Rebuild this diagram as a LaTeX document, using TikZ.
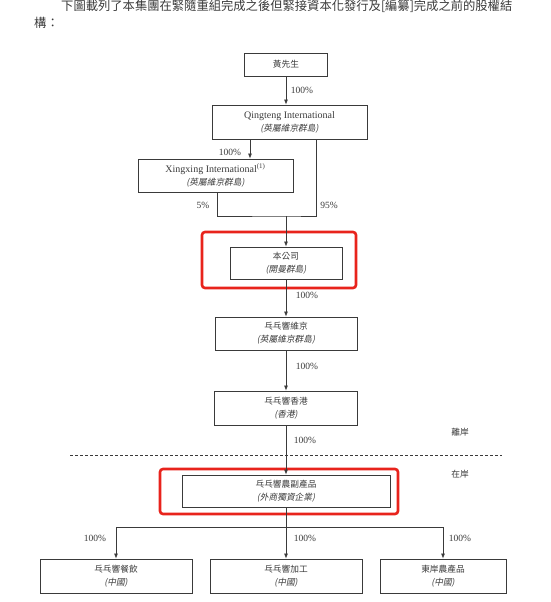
\documentclass[tikz,border=0pt]{standalone}
\usepackage{fontspec}
\setmainfont{Liberation Serif}
\newfontfamily\cjk{Noto Sans CJK TC}
\newfontfamily\cjkit{Noto Sans CJK TC}[FakeSlant=0.2]
\usetikzlibrary{arrows.meta}
\usepackage{xcolor}
\definecolor{ink}{HTML}{3A3A3A}
\definecolor{hilite}{HTML}{E8231C}
\newcommand{\zh}[1]{{\cjk\fontsize{8.7}{13}\selectfont #1}}
\newcommand{\zhit}[1]{{\cjkit\fontsize{8.7}{13}\selectfont (#1)}}

\begin{document}
\begin{tikzpicture}[x=1pt, y=-1pt,
  ent/.style={draw=ink, line width=0.8pt, align=center, inner sep=0pt, text=ink, font=\fontsize{10}{13}\selectfont},
  pct/.style={text=ink, inner sep=0pt, font=\fontsize{9.5}{11}\selectfont},
  arr/.style={draw=ink, line width=0.75pt, -{Latex[length=5pt,width=4pt]}},
  ln/.style={draw=ink, line width=0.75pt},
  hl/.style={draw=hilite, line width=2.6pt, rounded corners=3pt}]
\useasboundingbox (0,0) rectangle (550,602);

%intro text
\node[anchor=west, text=ink, inner sep=0pt] (intro) at (61,6) {\cjk\fontsize{12.3}{14}\selectfont 下圖載列了本集團在緊隨重組完成之後但緊接資本化發行及[編纂]完成之前的股權結};
\node[anchor=west, text=ink, inner sep=0pt] (intro2) at (34,23) {\cjk\fontsize{12.3}{14}\selectfont 構：};

%entities
\node[ent, minimum width=83pt, minimum height=23pt] (huang) at (286,64.5) {\zh{黃先生}};
\node[ent, minimum width=155pt, minimum height=34pt] (qt) at (289.5,122) {Qingteng International\\\zhit{英屬維京群島}};
\node[ent, minimum width=155pt, minimum height=33pt] (xx) at (215.5,175.5) {Xingxing International\textsuperscript{(1)}\\\zhit{英屬維京群島}};
\node[ent, minimum width=112pt, minimum height=32pt] (co) at (286,263) {\zh{本公司}\\\zhit{開曼群島}};
\node[ent, minimum width=142pt, minimum height=33pt] (bvi) at (286,333.5) {\zh{乓乓響維京}\\\zhit{英屬維京群島}};
\node[ent, minimum width=143pt, minimum height=34pt] (hk) at (286,408) {\zh{乓乓響香港}\\\zhit{香港}};
\node[ent, minimum width=208pt, minimum height=32pt] (wfoe) at (286,491) {\zh{乓乓響農副產品}\\\zhit{外商獨資企業}};
\node[ent, minimum width=152pt, minimum height=34pt] (cat) at (116,576) {\zh{乓乓響餐飲}\\\zhit{中國}};
\node[ent, minimum width=152pt, minimum height=34pt] (proc) at (286,576) {\zh{乓乓響加工}\\\zhit{中國}};
\node[ent, minimum width=126pt, minimum height=34pt] (agri) at (443,576) {\zh{東岸農產品}\\\zhit{中國}};

%highlight frames
\draw[hl] (202,232) rectangle (356,288);
\draw[hl] (160,469) rectangle (398,514);

%line coords
\coordinate (qtl) at (250,0); \coordinate (qtr) at (316,0); \coordinate (xxd) at (217,0);
\coordinate (join) at (286,216); \coordinate (split) at (286,527);
\coordinate (dl) at (70,455); \coordinate (dr) at (502,455);

%connectors
\draw[arr] (huang.south) -- (huang.south |- qt.north);
\draw[arr] (qt.south -| qtl) -- (xx.north -| qtl);
\draw[ln] (xx.south -| xxd) |- (join) -| (qt.south -| qtr);
\draw[arr] (join) -- (co.north);
\draw[arr] (co) -- (bvi);
\draw[arr] (bvi) -- (hk);
\draw[arr] (hk) -- (wfoe);
\draw[ln] (wfoe.south) -- (split);
\draw[arr] (split) -- (proc);
\foreach \n in {cat,agri} \draw[arr] (split) -| (\n.north);

%offshore / onshore
\draw[ink, line width=0.7pt, dash pattern=on 3pt off 2pt] (dl) -- (dr);
\node[text=ink, inner sep=0pt] (off) at (460,432) {\zh{離岸}};
\node[text=ink, inner sep=0pt] (on) at (460,474.5) {\zh{在岸}};

%percentages
\node[pct] (p1) at (302,90) {100\%};
\node[pct] (p2) at (230,152) {100\%};
\node[pct] (p3) at (203,205) {5\%};
\node[pct] (p4) at (329,205) {95\%};
\node[pct] (p5) at (307,295) {100\%};
\node[pct] (p6) at (307,366.5) {100\%};
\node[pct] (p7) at (305,440) {100\%};
\node[pct] (p8) at (95,538) {100\%};
\node[pct] (p9) at (305,538) {100\%};
\node[pct] (p10) at (460,538) {100\%};
\end{tikzpicture}
\end{document}
